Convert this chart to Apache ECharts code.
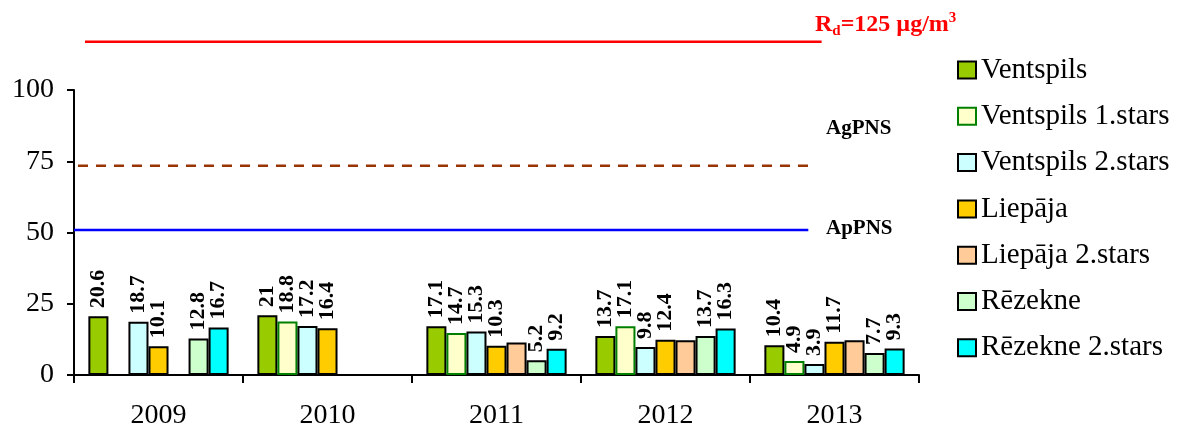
<!DOCTYPE html>
<html>
<head>
<meta charset="utf-8">
<script src="https://cdn.jsdelivr.net/npm/echarts@6/dist/echarts.min.js"></script>
<style>
html,body{margin:0;padding:0;background:#fff;}
#chart{width:1183px;height:434px;}
</style>
</head>
<body>
<div id="chart"></div>
<script>
const categories = ['2009', '2010', '2011', '2012', '2013'];
const seriesNames = ['Ventspils', 'Ventspils 1.stars', 'Ventspils 2.stars', 'Liepāja', 'Liepāja 2.stars', 'Rēzekne', 'Rēzekne 2.stars'];
const ventspils      = [20.6, 21, 17.1, 13.7, 10.4];
const ventspils1     = [null, 18.8, 14.7, 17.1, 4.9];
const ventspils2     = [18.7, 17.2, 15.3, 9.8, 3.9];
const liepaja        = [10.1, 16.4, 10.3, 12.4, 11.7];
const liepaja2       = [null, null, 11.4, 12.2, 12.2];
const rezekne        = [12.8, null, 5.2, 13.7, 7.7];
const rezekne2       = [16.7, null, 9.2, 16.3, 9.3];
const yTicks = [0, 25, 50, 75, 100];
// reference lines: [x in category units, y value]
const rdLine    = [[-0.435, 116.9], [3.924, 116.9]];
const agpnsLine = [[-0.583, 73.4], [3.873, 73.4]];
const appnsLine = [[-0.5, 50.9], [3.845, 50.9]];

const colors = ['#99CC00', '#FFFFCC', '#CCFFFF', '#FFCC00', '#FFCC99', '#CCFFCC', '#00FFFF'];
const borders = ['#000', '#008000', '#000', '#000', '#000', '#000', '#000'];
const values = [ventspils, ventspils1, ventspils2, liepaja, liepaja2, rezekne, rezekne2];
const showLabels = [true, true, true, true, false, true, true];
const FONT = '"Liberation Serif", "Times New Roman", serif';

const chart = echarts.init(document.getElementById('chart'));
const barSeries = seriesNames.map((name, i) => ({
  name: name,
  type: 'bar',
  data: values[i],
  barGap: '0%',
  barCategoryGap: '17%',
  itemStyle: { color: colors[i], borderColor: borders[i], borderWidth: 2 },
  label: {
    show: showLabels[i],
    position: 'top',
    rotate: 90,
    align: 'left',
    verticalAlign: 'middle',
    distance: 8,
    fontFamily: FONT,
    fontWeight: 'bold',
    fontSize: 22,
    color: '#000'
  },
  emphasis: { disabled: true }
}));

function refLine(data, color, type, width) {
  return {
    type: 'line', xAxisIndex: 1, yAxisIndex: 0, data: data, clip: false,
    symbol: 'none', silent: true,
    lineStyle: { color: color, type: type, width: width }
  };
}

chart.setOption({
  animation: false,
  backgroundColor: '#fff',
  grid: { left: 74, right: 264, top: 90, bottom: 59 },
  xAxis: [{
    type: 'category',
    data: categories,
    axisLine: { onZero: false, lineStyle: { color: '#000', width: 2 } },
    axisTick: { show: true, alignWithLabel: false, length: 8, lineStyle: { color: '#000', width: 2 } },
    axisLabel: { fontFamily: FONT, fontSize: 28, color: '#000', margin: 27 }
  }, {
    type: 'value', min: -0.5, max: 4.5, show: false
  }],
  yAxis: {
    type: 'value', min: yTicks[0], max: yTicks[yTicks.length - 1], interval: 25,
    axisLine: { show: true, onZero: false, lineStyle: { color: '#000', width: 2 } },
    axisTick: { show: true, length: 7, lineStyle: { color: '#000', width: 2 } },
    splitLine: { show: false },
    axisLabel: { fontFamily: FONT, fontSize: 28, color: '#000', margin: 20 }
  },
  legend: {
    data: seriesNames,
    orient: 'vertical',
    left: 952,
    top: 50,
    itemWidth: 18,
    itemHeight: 17,
    itemGap: 16.3,
    icon: 'rect',
    textStyle: { fontFamily: FONT, fontSize: 29, color: '#000', lineHeight: 30 }
  },
  graphic: [
    { type: 'text', left: 815, top: 11, style: {
        text: '{a|R}{b|d}{a|=125 µg/m}{c|3}',
        fill: '#FF0000',
        rich: {
          a: { fontFamily: FONT, fontWeight: 'bold', fontSize: 24, color: '#FF0000', lineHeight: 28 },
          b: { fontFamily: FONT, fontWeight: 'bold', fontSize: 15, color: '#FF0000', verticalAlign: 'bottom', lineHeight: 28 },
          c: { fontFamily: FONT, fontWeight: 'bold', fontSize: 15, color: '#FF0000', verticalAlign: 'top', lineHeight: 28 }
        }
    } },
    { type: 'text', left: 826, top: 118, style: { text: 'AgPNS', fontFamily: FONT, fontWeight: 'bold', fontSize: 21, fill: '#000' } },
    { type: 'text', left: 826, top: 218, style: { text: 'ApPNS', fontFamily: FONT, fontWeight: 'bold', fontSize: 21, fill: '#000' } }
  ],
  series: barSeries.concat([
    refLine(rdLine, '#FF0000', 'solid', 2.5),
    refLine(agpnsLine, '#993300', [10, 8], 2.5),
    refLine(appnsLine, '#0000FF', 'solid', 2.5)
  ])
});
</script>
</body>
</html>
